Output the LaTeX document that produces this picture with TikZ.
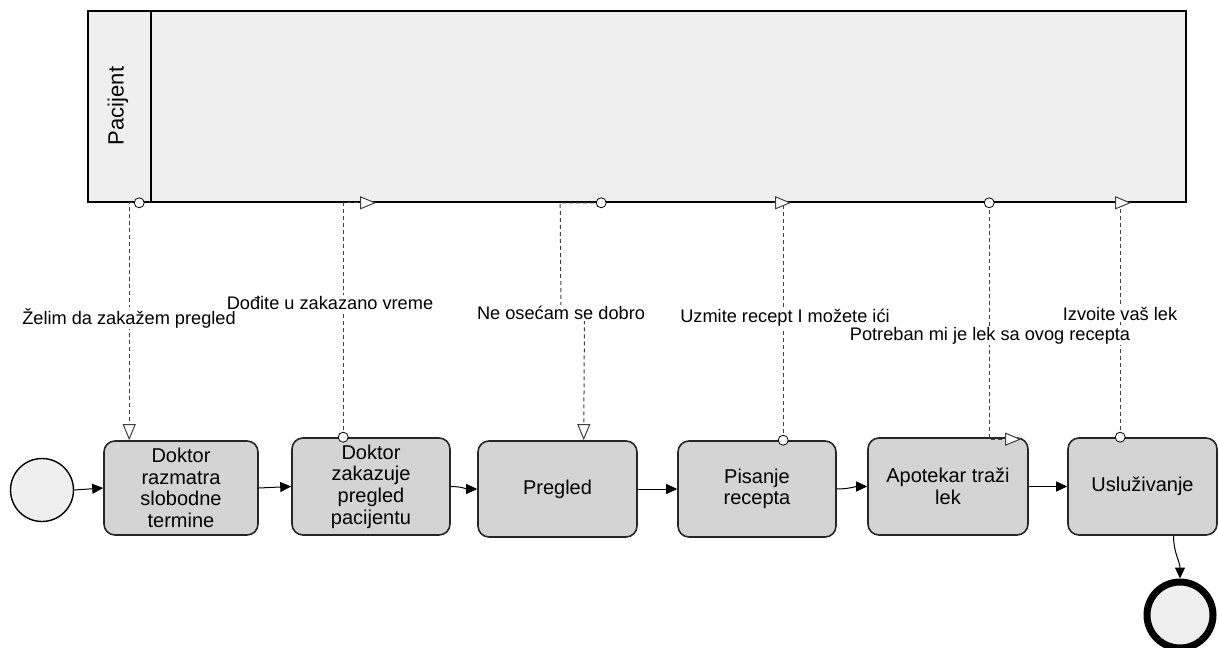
\documentclass[tikz,border=0pt]{standalone}
\usepackage{fontspec}
\setmainfont{Liberation Sans}
\usetikzlibrary{arrows.meta,calc}
\definecolor{poolfill}{HTML}{EFEFEF}
\definecolor{taskfill}{HTML}{D4D4D4}
\definecolor{msgline}{HTML}{404040}
\begin{document}
\begin{tikzpicture}[x=1pt,y=-1pt,
  pool/.style={draw=black,line width=1.6pt,fill=poolfill,inner sep=0pt},
  task/.style={draw=black!85,line width=1.6pt,rounded corners=11pt,fill=taskfill,align=center,
    font=\fontsize{20}{21.6}\selectfont,inner sep=0pt},
  seq/.style={-{Triangle[length=11pt,width=10pt]},line width=1pt},
  msg/.style={draw=msgline,dash pattern=on 4pt off 3pt,line width=1pt},
  opentip/.style={-{Triangle[open,length=16pt,width=13pt,fill=white]}},
  lbl/.style={fill=white,inner sep=1pt,font=\fontsize{18.2}{22}\selectfont},
  mcirc/.style={circle,draw=black,fill=white,minimum size=10pt,inner sep=0pt,line width=0.8pt}
]
\useasboundingbox (0,0) rectangle (1219,648);

% pool
\node[pool,minimum width=1098pt,minimum height=191pt] (pool) at (637,106.5) {};
\draw[line width=1.6pt] ($(pool.north west)+(64,0)$) -- ($(pool.south west)+(64,0)$);
\node[rotate=90,font=\fontsize{22}{26}\selectfont] (lane) at (118,106) {Pacijent};

% events
\node[circle,draw=black,line width=1.4pt,fill=poolfill,minimum size=63pt,inner sep=0pt] (start) at (42,490) {};
\node[circle,draw=black,line width=7pt,fill=poolfill,minimum size=66pt,inner sep=0pt] (end) at (1180,615) {};

% tasks
\node[task,minimum width=154pt,minimum height=94pt] (t1) at (181,488) {Doktor\\razmatra\\slobodne\\termine};
\node[task,minimum width=158pt,minimum height=97pt] (t2) at (371,486.5) {Doktor\\zakazuje\\pregled\\pacijentu};
\node[task,minimum width=159pt,minimum height=96pt] (t3) at (557.5,489) {Pregled};
\node[task,minimum width=158pt,minimum height=96pt] (t4) at (757,489) {Pisanje\\recepta};
\node[task,minimum width=160pt,minimum height=97pt] (t5) at (948,486.5) {Apotekar traži\\lek};
\node[task,minimum width=149pt,minimum height=97pt] (t6) at (1142.5,486.5) {Usluživanje};

% sequence flows
\draw[seq] (start.east) -- (t1.west);
\draw[seq] (t1.east) -- (t2.west);
\draw[seq] (t2.east) to[out=0,in=180] (t3.west);
\draw[seq] (t3.east) -- (t4.west);
\draw[seq] (t4.east) to[out=0,in=180] (t5.west);
\draw[seq] (t5.east) -- (t6.west);
\coordinate (t6out) at ($(t6.south)+(31,0)$);
\draw[seq] (t6out) to[out=-90,in=90] (end.north);

% message flow anchor points
\coordinate (b1) at ($(pool.south west)+(52,0)$);
\coordinate (c1) at ($(pool.south west)+(42,0)$);
\coordinate (e1) at ($(t1.north west)+(26,0)$);

\coordinate (s2) at ($(t2.north west)+(52,0)$);
\coordinate (c2) at ($(pool.south west)+(256,0)$);
\coordinate (e2) at ($(pool.south west)+(289,0)$);

\coordinate (b3) at ($(pool.south west)+(514,0)$);
\coordinate (c3) at ($(pool.south west)+(473,0)$);
\coordinate (d3) at (561,313);
\coordinate (f3) at (584.5,313);
\coordinate (e3) at ($(t3.north west)+(106.5,0)$);

\coordinate (s4) at ($(t4.north west)+(106,0)$);
\coordinate (c4) at ($(pool.south west)+(696,0)$);
\coordinate (e4) at ($(pool.south west)+(704,0)$);

\coordinate (b5) at ($(pool.south west)+(902,0)$);
\coordinate (c5) at ($(t5.north west)+(122,2)$);
\coordinate (e5) at ($(t5.north west)+(154,2)$);

\coordinate (s6) at ($(t6.north west)+(53,0)$);
\coordinate (c6) at ($(pool.south west)+(1033,0)$);
\coordinate (e6) at ($(pool.south west)+(1044,0)$);

% message flows
\draw[msg,opentip] (b1) -- (c1) -- (e1);
\draw[msg,opentip] (s2) -- (c2) -- (e2);
\draw[msg,opentip] (b3) -- (c3) -- (d3) -- (f3) -- (e3);
\draw[msg,opentip] (s4) -- (c4) -- (e4);
\draw[msg,opentip] (b5) -- (c5) -- (e5);
\draw[msg,opentip] (s6) -- (c6) -- (e6);

% labels
\node[lbl] (l1) at (129,318) {Želim da zakažem pregled};
\node[lbl] (l2) at (330,303) {Dođite u zakazano vreme};
\node[lbl] (l3) at (561,313) {Ne osećam se dobro};
\node[lbl] (l4) at (785,318) {Uzmite recept I možete ići};
\node[lbl] (l6) at (1120,314) {Izvoite vaš lek};
\node[lbl] (l5) at (990,336) {Potreban mi je lek sa ovog recepta};

% message start circles
\node[mcirc] (m1) at (b1) {};
\node[mcirc] (m2) at (s2) {};
\node[mcirc] (m3) at (b3) {};
\node[mcirc] (m4) at (s4) {};
\node[mcirc] (m5) at (b5) {};
\node[mcirc] (m6) at (s6) {};
\end{tikzpicture}
\end{document}
